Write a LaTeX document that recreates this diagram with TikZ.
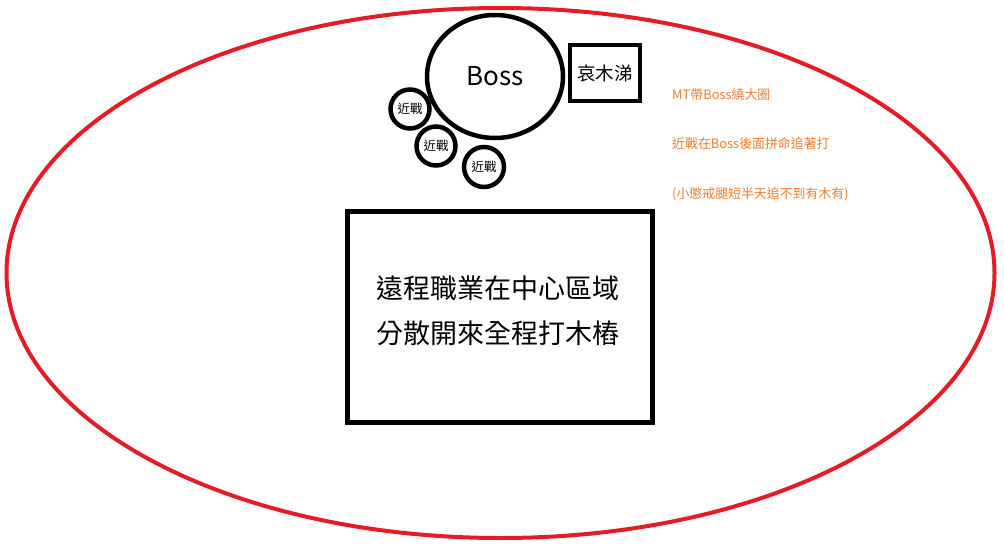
\documentclass[tikz,border=0pt]{standalone}
\usepackage{fontspec}
\setmainfont{Noto Sans CJK TC}
\definecolor{arenared}{RGB}{228,28,38}
\definecolor{noteorange}{RGB}{237,125,49}
\begin{document}
\begin{tikzpicture}[x=1pt,y=-1pt,
    melee/.style={circle,draw,line width=4.5pt,minimum size=39pt,inner sep=0pt,font=\fontsize{12.5}{13}\selectfont},
    note/.style={anchor=west,inner sep=0pt,text=noteorange,font=\fontsize{12.9}{14}\selectfont}]
        \useasboundingbox (0,0) rectangle (1004,549);
        \draw[arenared, line width=4pt] (500.5,273) ellipse [x radius=494, y radius=265];
        \draw[line width=4.5pt] (495,76.5) ellipse [x radius=68, y radius=61.5];
        \node[font=\fontsize{26}{26}\selectfont] (boss) at (495,76.5) {Boss};
        \node[draw, line width=4.5pt, minimum width=70pt, minimum height=56pt, inner sep=0pt, font=\fontsize{18.5}{19}\selectfont] (tank) at (605,73) {哀木涕};
        \node[melee] (meleea) at (410,109) {近戰};
        \node[melee] (meleeb) at (436,146) {近戰};
        \node[melee, minimum size=40pt] (meleec) at (484,167) {近戰};
        \node[draw, line width=5pt, minimum width=305pt, minimum height=211pt] (range) at (500,317) {};
        \node[align=center, font=\fontsize{27}{45}\selectfont] (rangetext) at (498,311) {遠程職業在中心區域\\分散開來全程打木樁};
        \node[note] (notea) at (672,95) {MT帶Boss繞大圈};
        \node[note] (noteb) at (672,144) {近戰在Boss後面拼命追著打};
        \node[note] (notec) at (672,194) {(小懲戒腿短半天追不到有木有)};
    \end{tikzpicture}
\end{document}
